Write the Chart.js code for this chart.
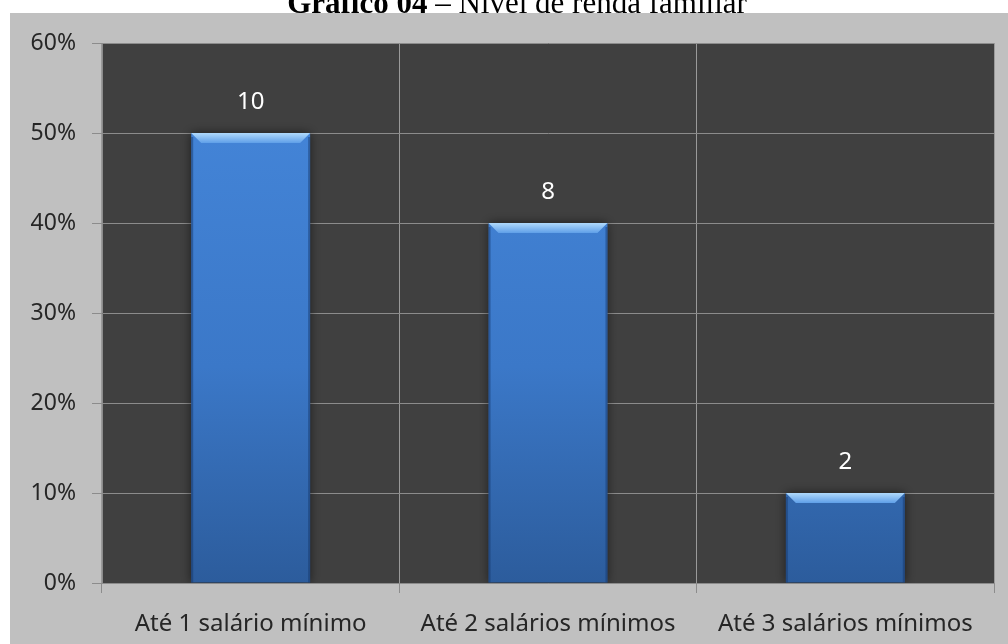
<!DOCTYPE html>
<html>
<head>
<meta charset="utf-8">
<script src="https://cdn.jsdelivr.net/npm/chart.js@4.4.0/dist/chart.umd.min.js"></script>
<style>
    html, body { margin: 0; padding: 0; background: #ffffff; }
    #wrap { position: relative; width: 1008px; height: 644px; overflow: hidden; }
    #title {
        position: absolute; left: 0; top: -13px; width: 1034px;
        text-align: center; font-family: "Liberation Serif", "Times New Roman", serif;
        font-size: 31px; line-height: 31px; color: #000; z-index: 2; white-space: nowrap;
    }
    canvas { position: absolute; left: 0; top: 0; }
</style>
</head>
<body>
<div id="wrap">
    <div id="title"><b>Gráfico 04</b> – Nível de renda familiar</div>
    <canvas id="myChart" width="1008" height="644"></canvas>
</div>
<script>
var categories = ["Até 1 salário mínimo", "Até 2 salários mínimos", "Até 3 salários mínimos"];
var percentValues = [50, 40, 10];
var countLabels = ["10", "8", "2"];
var yTicks = [0, 10, 20, 30, 40, 50, 60];

var labelFont = { family: "'Noto Sans', sans-serif", size: 23 };
var xFont = { family: "'Noto Sans', sans-serif", size: 24 };

// gray frame and dark plot background
var backgroundPlugin = {
    id: 'backgrounds',
    beforeDraw: function(chart) {
        var ctx = chart.ctx, a = chart.chartArea;
        ctx.save();
        ctx.fillStyle = '#c0c0c0';
        ctx.fillRect(10, 13, chart.width - 10, chart.height - 13);
        ctx.fillStyle = '#404040';
        ctx.fillRect(a.left, a.top, a.right - a.left, a.bottom - a.top);
        ctx.restore();
    }
};

// soft shadow behind the bars
var shadowPlugin = {
    id: 'barShadow',
    beforeDatasetsDraw: function(chart) {
        var ctx = chart.ctx;
        ctx.save();
        ctx.shadowColor = 'rgba(0,0,0,0.55)';
        ctx.shadowBlur = 10;
        ctx.shadowOffsetX = 0;
        ctx.shadowOffsetY = 0;
    },
    afterDatasetsDraw: function(chart) {
        chart.ctx.restore();
    }
};

// bevel highlight on top of each bar + count labels
var bevelPlugin = {
    id: 'bevel',
    afterDatasetsDraw: function(chart) {
        var ctx = chart.ctx;
        var meta = chart.getDatasetMeta(0);
        meta.data.forEach(function(bar, i) {
            var p = bar.getProps(['x', 'y', 'base', 'width'], true);
            var l = p.x - p.width / 2, r = p.x + p.width / 2;
            var t = p.y, b = p.base;
            ctx.save();
            // top bevel
            var g = ctx.createLinearGradient(0, t, 0, t + 10);
            g.addColorStop(0, '#b0dafc');
            g.addColorStop(1, '#5f9fe8');
            ctx.fillStyle = g;
            ctx.beginPath();
            ctx.moveTo(l, t);
            ctx.lineTo(r, t);
            ctx.lineTo(r - 10, t + 10);
            ctx.lineTo(l + 10, t + 10);
            ctx.closePath();
            ctx.fill();
            // side edges
            ctx.fillStyle = 'rgba(20,50,100,0.45)';
            ctx.fillRect(l, t + 4, 2, b - t - 4);
            ctx.fillRect(r - 2, t + 4, 2, b - t - 4);
            // count label
            ctx.fillStyle = '#ffffff';
            ctx.font = xFont.size + 'px ' + xFont.family;
            ctx.textAlign = 'center';
            ctx.textBaseline = 'middle';
            ctx.fillText(countLabels[i], p.x, t - 31);
            ctx.restore();
        });
    }
};

var ctx = document.getElementById('myChart').getContext('2d');
var myChart = new Chart(ctx, {
    type: 'bar',
    data: {
        labels: categories,
        datasets: [
            {
                data: percentValues,
                backgroundColor: function(context) {
                    var a = context.chart.chartArea;
                    if (!a) return '#3f7fd3';
                    var g = context.chart.ctx.createLinearGradient(0, a.top, 0, a.bottom);
                    g.addColorStop(0, '#4688dc');
                    g.addColorStop(0.6, '#3b78c8');
                    g.addColorStop(1, '#2c5c9c');
                    return g;
                },
                borderWidth: 0,
                barPercentage: 0.4,
                categoryPercentage: 1.0
            }
        ]
    },
    options: {
        responsive: false,
        animation: false,
        layout: { padding: { top: 43, right: 14, left: 0, bottom: 0 } },
        plugins: {
            legend: { display: false },
            tooltip: { enabled: false }
        },
        scales: {
            x: {
                afterFit: function(scale) { scale.height = 61; },
                grid: {
                    display: true,
                    offset: true,
                    color: '#9a9a9a',
                    tickColor: '#8c8c8c',
                    tickLength: 10
                },
                border: { color: '#8c8c8c' },
                ticks: {
                    color: '#262626',
                    font: xFont,
                    padding: 17,
                    maxRotation: 0
                }
            },
            y: {
                min: 0,
                max: 60,
                afterFit: function(scale) { scale.width = 102; },
                afterBuildTicks: function(scale) {
                    scale.ticks = yTicks.map(function(v) { return { value: v }; });
                },
                grid: {
                    color: '#8c8c8c',
                    tickColor: '#8c8c8c',
                    tickLength: 10
                },
                border: { color: '#8c8c8c' },
                ticks: {
                    color: '#262626',
                    font: labelFont,
                    padding: 16,
                    callback: function(value) { return value + '%'; }
                }
            }
        }
    },
    plugins: [backgroundPlugin, shadowPlugin, bevelPlugin]
});
</script>
</body>
</html>
